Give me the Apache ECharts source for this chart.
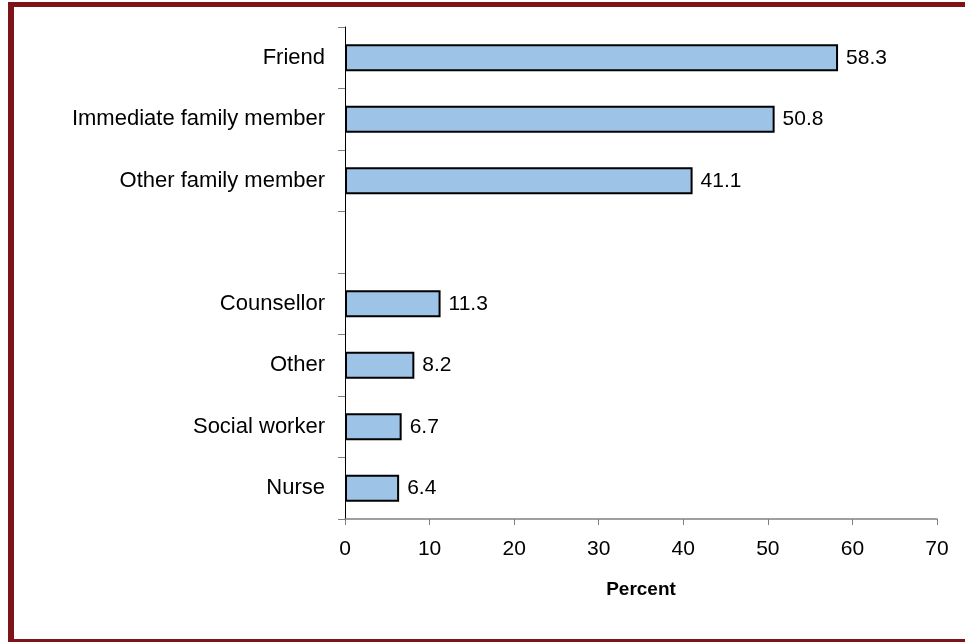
<!DOCTYPE html>
<html>
<head>
<meta charset="utf-8">
<script src="https://cdn.jsdelivr.net/npm/echarts@6/dist/echarts.min.js"></script>
<style>
  html, body { margin: 0; padding: 0; background: #ffffff; }
  #chart { width: 965px; height: 642px; }
</style>
</head>
<body>
<div id="chart"></div>
<script>
// Sources of support, percent of respondents
const categories = ['Friend', 'Immediate family member', 'Other family member', ' ', 'Counsellor', 'Other', 'Social worker', 'Nurse'];
const percents = [58.3, 50.8, 41.1, null, 11.3, 8.2, 6.7, 6.4];
const xTicks = [0, 10, 20, 30, 40, 50, 60, 70];

const FONT = '"Liberation Sans", Arial, sans-serif';
const FRAME = '#7d1518';

const chart = echarts.init(document.getElementById('chart'), null, { renderer: 'canvas' });

chart.setOption({
  animation: false,
  backgroundColor: '#ffffff',
  grid: { left: 345, right: 28, top: 27, bottom: 123, containLabel: false },
  xAxis: {
    type: 'value',
    min: xTicks[0],
    max: xTicks[xTicks.length - 1],
    interval: 10,
    name: 'Percent',
    nameLocation: 'middle',
    nameGap: 61,
    nameTextStyle: { fontFamily: FONT, fontSize: 19, fontWeight: 'bold', color: '#000' },
    axisLine: { show: true, lineStyle: { color: '#808080', width: 1.5 } },
    axisTick: { show: true, length: 6, lineStyle: { color: '#808080', width: 1 } },
    axisLabel: { fontFamily: FONT, fontSize: 21, color: '#000', margin: 20 },
    splitLine: { show: false }
  },
  yAxis: {
    type: 'category',
    data: categories,
    inverse: true,
    axisLine: { show: true, onZero: false, lineStyle: { color: '#000', width: 1 } },
    axisTick: { show: true, length: 7, lineStyle: { color: '#808080', width: 1 } },
    axisLabel: { fontFamily: FONT, fontSize: 22, color: '#000', margin: 20 },
    splitLine: { show: false }
  },
  series: [{
    type: 'bar',
    data: percents,
    barWidth: 27,
    itemStyle: { color: '#9dc3e6', borderColor: '#000', borderWidth: 2 },
    label: {
      show: true,
      position: 'right',
      distance: 8,
      fontFamily: FONT,
      fontSize: 21,
      color: '#000',
      formatter: p => p.value.toFixed(1)
    }
  }],
  graphic: [
    { type: 'rect', shape: { x: 8, y: 2, width: 957, height: 5 }, style: { fill: FRAME }, silent: true },
    { type: 'rect', shape: { x: 8, y: 2, width: 6, height: 640 }, style: { fill: FRAME }, silent: true },
    { type: 'rect', shape: { x: 8, y: 639, width: 957, height: 3 }, style: { fill: FRAME }, silent: true }
  ]
});
</script>
</body>
</html>
